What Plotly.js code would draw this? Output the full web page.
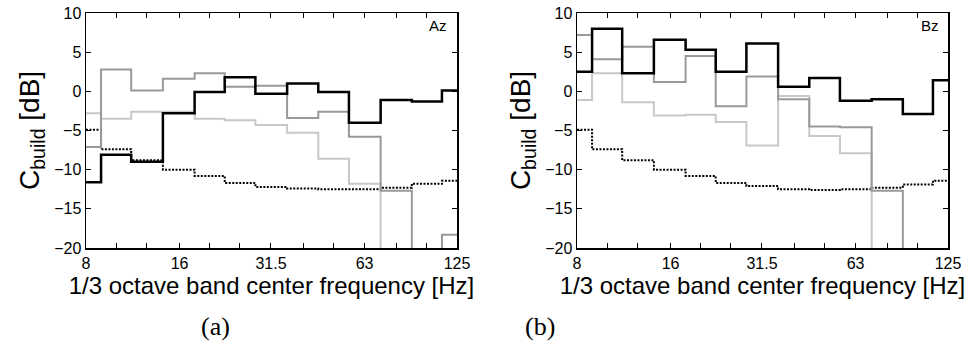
<!DOCTYPE html>
<html>
<head>
<meta charset="utf-8">
<script src="https://cdn.plot.ly/plotly-3.0.1.min.js"></script>
<style>
  html, body { margin: 0; padding: 0; background: #fff; }
  #chart { width: 972px; height: 352px; }
</style>
</head>
<body>
<div id="chart"></div>
<script>
// 1/3 octave band centre frequencies [Hz]
const bands = [8, 10, 12.5, 16, 20, 25, 31.5, 40, 50, 63, 80, 100, 125];
const labelledTicks = [8, 16, 31.5, 63, 125];
const tickLabels = ['8', '16', '31.5', '63', '125'];
const yTicks = [-20, -15, -10, -5, 0, 5, 10];

// Panel (a) "Az" — values in dB (values below -20 fall off the axis)
const azBlack = [-11.6, -8.1, -9.0, -2.8, -0.1, 1.8, -0.3, 1.0, -0.1, -4.0, -1.1, -1.3, 0.1];
const azDarkGray = [-7.1, 2.8, 0.1, 1.6, 2.3, 0.6, 0.7, -3.4, -2.6, -5.8, -12.7, -40, -18.3];
const azLightGray = [-2.8, -3.5, -2.6, -2.6, -3.5, -3.7, -4.3, -5.3, -8.6, -11.8, -40, -40, -40];
const azDotted = [-4.9, -7.4, -8.8, -10.0, -10.8, -11.7, -12.2, -12.4, -12.5, -12.5, -12.3, -11.8, -11.4];

// Panel (b) "Bz"
const bzBlack = [2.5, 8.0, 2.3, 6.6, 5.3, 2.5, 6.1, 0.6, 1.7, -1.2, -1.0, -2.9, 1.4];
const bzDarkGray = [7.2, 4.1, 5.7, 1.2, 4.5, -1.9, 1.9, -1.0, -4.5, -4.6, -12.7, -40, -40];
const bzLightGray = [-1.1, 2.3, -1.4, -3.1, -3.0, -3.9, -6.9, -0.6, -5.7, -7.9, -40, -40, -40];
const bzDotted = [-4.9, -7.4, -8.8, -10.0, -10.8, -11.7, -12.1, -12.5, -12.6, -12.5, -12.3, -11.9, -11.4];

const FONT = 'Liberation Sans, Arial, sans-serif';
const SERIF = 'Liberation Serif, Times New Roman, serif';

function mk(y, xa, ya, color, width, dash) {
  return {
    x: bands, y: y, xaxis: xa, yaxis: ya, type: 'scatter', mode: 'lines',
    line: { shape: 'hvh', color: color, width: width, dash: dash || 'solid' },
    hoverinfo: 'x+y', showlegend: false
  };
}

const traces = [
  mk(azDotted, 'x', 'y', '#000000', 2, '2px,1.5px'),
  mk(azLightGray, 'x', 'y', '#c8c8c8', 2),
  mk(azDarkGray, 'x', 'y', '#999999', 2),
  mk(azBlack, 'x', 'y', '#000000', 2.5),
  mk(bzDotted, 'x2', 'y2', '#000000', 2, '2px,1.5px'),
  mk(bzLightGray, 'x2', 'y2', '#c8c8c8', 2),
  mk(bzDarkGray, 'x2', 'y2', '#999999', 2),
  mk(bzBlack, 'x2', 'y2', '#000000', 2.5)
];

function xAxis(domain, anchor) {
  return {
    domain: domain, anchor: anchor, type: 'log',
    range: [Math.log10(8), Math.log10(125)],
    tickmode: 'array', tickvals: labelledTicks, ticktext: tickLabels,
    ticks: 'inside', ticklen: 5, tickwidth: 1, tickcolor: '#000',
    minor: { tickmode: 'array', tickvals: bands, ticks: 'inside', ticklen: 5, tickwidth: 1, tickcolor: '#000', showgrid: false },
    showline: true, linecolor: '#000', linewidth: 1.5, mirror: 'ticks',
    showgrid: false, zeroline: false,
    tickfont: { family: FONT, size: 16, color: '#000' },
    title: { text: '1/3 octave band center frequency [Hz]', font: { family: FONT, size: 24, color: '#000' }, standoff: 0 },
    automargin: false
  };
}
function yAxis(domain, anchor) {
  return {
    domain: domain, anchor: anchor, range: [-20, 10],
    tickmode: 'array', tickvals: yTicks,
    ticks: 'inside', ticklen: 5, tickwidth: 1, tickcolor: '#000',
    showline: true, linecolor: '#000', linewidth: 1.5, mirror: 'ticks',
    showgrid: false, zeroline: false,
    tickfont: { family: FONT, size: 16, color: '#000' },
    title: { text: 'C<sub>build</sub> [dB]', font: { family: FONT, size: 28, color: '#000' }, standoff: 6 },
    automargin: false
  };
}

const yDom = [1 - 248 / 352, 1 - 13 / 352];
const layout = {
  width: 972, height: 352,
  margin: { l: 0, r: 0, t: 0, b: 0 },
  paper_bgcolor: '#fff', plot_bgcolor: '#fff',
  showlegend: false,
  xaxis: xAxis([86 / 972, 457 / 972], 'y'),
  yaxis: yAxis(yDom, 'x'),
  xaxis2: xAxis([577 / 972, 948 / 972], 'y2'),
  yaxis2: yAxis(yDom, 'x2'),
  annotations: [
    { text: 'Az', xref: 'paper', yref: 'paper', x: 449 / 972, y: 1 - 26 / 352, xanchor: 'right', yanchor: 'middle', showarrow: false, font: { family: FONT, size: 15, color: '#000' } },
    { text: 'Bz', xref: 'paper', yref: 'paper', x: 941 / 972, y: 1 - 26 / 352, xanchor: 'right', yanchor: 'middle', showarrow: false, font: { family: FONT, size: 15, color: '#000' } },
    { text: '(a)', xref: 'paper', yref: 'paper', x: 215 / 972, y: 1 - 326 / 352, xanchor: 'center', yanchor: 'middle', showarrow: false, font: { family: SERIF, size: 26, color: '#000' } },
    { text: '(b)', xref: 'paper', yref: 'paper', x: 540 / 972, y: 1 - 326 / 352, xanchor: 'center', yanchor: 'middle', showarrow: false, font: { family: SERIF, size: 26, color: '#000' } }
  ]
};

Plotly.newPlot('chart', traces, layout, { staticPlot: true, displayModeBar: false });
</script>
</body>
</html>
